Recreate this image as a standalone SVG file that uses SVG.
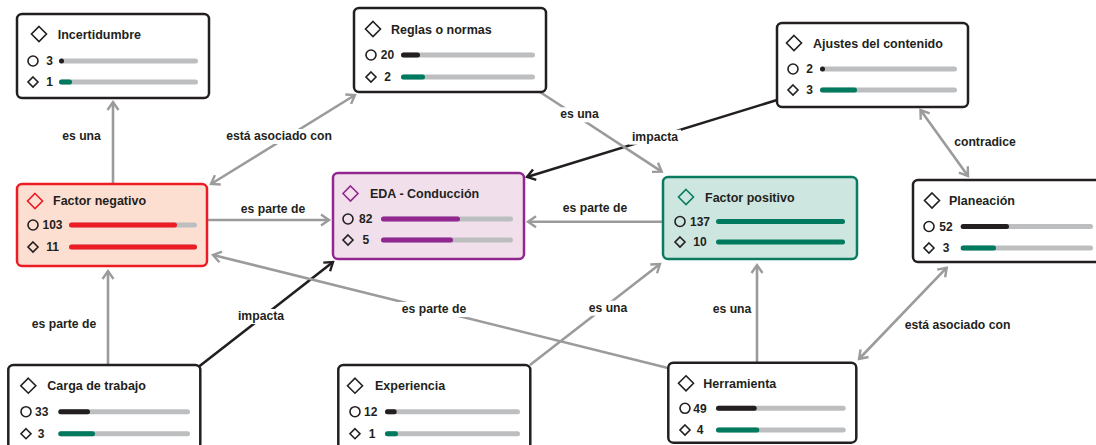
<svg xmlns="http://www.w3.org/2000/svg" width="1096" height="445" viewBox="0 0 1096 445">
<style>
.box{fill:#fff;stroke:#231f20;stroke-width:2.5}
.t{font-family:"Liberation Sans",Arial,sans-serif;font-weight:bold;font-size:12.5px;fill:#231f20}
.n{font-family:"Liberation Sans",Arial,sans-serif;font-weight:bold;font-size:12px;fill:#231f20;text-anchor:middle}
.l{font-family:"Liberation Sans",Arial,sans-serif;font-weight:bold;font-size:12.2px;fill:#231f20;text-anchor:middle}
.ic{fill:none;stroke:#231f20;stroke-width:1.6}
.trk{stroke:#bcbec0;stroke-width:5;stroke-linecap:round}
.fd{stroke:#231f20;stroke-width:5;stroke-linecap:round}
.fg{stroke:#007a5e;stroke-width:5;stroke-linecap:round}
.fr{stroke:#ed1c24;stroke-width:5;stroke-linecap:round}
.fp{stroke:#92278f;stroke-width:5;stroke-linecap:round}
.cg{fill:none;stroke:#9b9b9b;stroke-width:2.6}
.cb{fill:none;stroke:#231f20;stroke-width:2.6}
.bg{fill:#fff}
</style>
<defs>
<marker id="ag" viewBox="-11 -8 14 16" refX="0" refY="0" markerWidth="14" markerHeight="16" markerUnits="userSpaceOnUse" orient="auto-start-reverse" overflow="visible"><path d="M-8,-5.5 L0,0 L-8,5.5" fill="none" stroke="#9b9b9b" stroke-width="2.4"/></marker>
<marker id="ab" viewBox="-11 -8 14 16" refX="0" refY="0" markerWidth="14" markerHeight="16" markerUnits="userSpaceOnUse" orient="auto-start-reverse" overflow="visible"><path d="M-8,-5.5 L0,0 L-8,5.5" fill="none" stroke="#231f20" stroke-width="2.4"/></marker>
</defs>

<g id="connectors">
<path class="cg" d="M113,184 L113,102" marker-end="url(#ag)"/>
<path class="cg" d="M211,184 L355,95" marker-start="url(#ag)" marker-end="url(#ag)"/>
<path class="cg" d="M207,220 L329,220" marker-end="url(#ag)"/>
<path class="cg" d="M663,221.7 L528,221.7" marker-end="url(#ag)"/>
<path class="cg" d="M108,365 L108,271" marker-end="url(#ag)"/>
<path class="cb" d="M199,366.5 L333,262" marker-end="url(#ab)"/>
<path class="cb" d="M777,100 L527,177" marker-end="url(#ab)"/>
<path class="cg" d="M540,92 L661.7,171.7" marker-end="url(#ag)"/>
<path class="cg" d="M530,365 L660,264" marker-end="url(#ag)"/>
<path class="cg" d="M757,362.7 L757,265" marker-end="url(#ag)"/>
<path class="cg" d="M668,368 L213,255" marker-end="url(#ag)"/>
<path class="cg" d="M920.5,110 L968,176" marker-start="url(#ag)" marker-end="url(#ag)"/>
<path class="cg" d="M859,359 L946.7,267.7" marker-start="url(#ag)" marker-end="url(#ag)"/>
</g>

<g id="labels">
<text class="l" x="81.5" y="140">es una</text>
<rect class="bg" x="224" y="129" width="110" height="15"/>
<text class="l" x="279" y="140">está asociado con</text>
<text class="l" x="273" y="212.7">es parte de</text>
<text class="l" x="595" y="212">es parte de</text>
<text class="l" x="64" y="328">es parte de</text>
<rect class="bg" x="235" y="309" width="52" height="15"/>
<text class="l" x="261" y="320">impacta</text>
<rect class="bg" x="629" y="129.7" width="52" height="15"/>
<text class="l" x="655" y="140.7">impacta</text>
<rect class="bg" x="557" y="107.3" width="45" height="15"/>
<text class="l" x="579.5" y="118.3">es una</text>
<rect class="bg" x="585.5" y="300.7" width="45" height="15"/>
<text class="l" x="608" y="311.7">es una</text>
<text class="l" x="732" y="313.3">es una</text>
<rect class="bg" x="398" y="302" width="72" height="15"/>
<text class="l" x="434" y="313">es parte de</text>
<text class="l" x="985" y="145.7">contradice</text>
<text class="l" x="957.5" y="329.3">está asociado con</text>
</g>

<g id="incertidumbre">
<rect class="box" x="17" y="14" width="192" height="84" rx="5"/>
<path class="ic" d="M39,26.5 L46.5,34 L39,41.5 L31.5,34 Z"/>
<text class="t" x="57.7" y="38.5">Incertidumbre</text>
<circle class="ic" cx="33" cy="61" r="5"/>
<text class="n" x="49.5" y="65.3">3</text>
<line class="trk" x1="61.5" y1="61" x2="195.5" y2="61"/>
<path class="fd" d="M61.5,61 h0.01"/>
<path class="ic" d="M33,77 L38,82 L33,87 L28,82 Z"/>
<text class="n" x="49.5" y="86.3">1</text>
<line class="trk" x1="61.5" y1="82" x2="195.5" y2="82"/>
<line class="fg" x1="61.5" y1="82" x2="69.5" y2="82"/>
</g>

<g id="reglas">
<rect class="box" x="354" y="8" width="192" height="84" rx="5"/>
<path class="ic" d="M373,21.5 L380.5,29 L373,36.5 L365.5,29 Z"/>
<text class="t" x="391" y="33.5">Reglas o normas</text>
<circle class="ic" cx="371" cy="55" r="5"/>
<text class="n" x="387.5" y="59.3">20</text>
<line class="trk" x1="403.5" y1="55" x2="532.5" y2="55"/>
<line class="fd" x1="403.5" y1="55" x2="417.5" y2="55"/>
<path class="ic" d="M371,72 L376,77 L371,82 L366,77 Z"/>
<text class="n" x="387.5" y="81.3">2</text>
<line class="trk" x1="403.5" y1="77" x2="532.5" y2="77"/>
<line class="fg" x1="403.5" y1="77" x2="422.5" y2="77"/>
</g>

<g id="ajustes">
<rect class="box" x="777" y="23" width="191" height="84" rx="5"/>
<path class="ic" d="M794,35.5 L801.5,43 L794,50.5 L786.5,43 Z"/>
<text class="t" x="813" y="47.5">Ajustes del contenido</text>
<circle class="ic" cx="793" cy="69" r="5"/>
<text class="n" x="809.5" y="73.3">2</text>
<line class="trk" x1="822.5" y1="69" x2="954.5" y2="69"/>
<path class="fd" d="M822.5,69 h0.01"/>
<path class="ic" d="M793,85 L798,90 L793,95 L788,90 Z"/>
<text class="n" x="809.5" y="94.3">3</text>
<line class="trk" x1="822.5" y1="90" x2="954.5" y2="90"/>
<line class="fg" x1="822.5" y1="90" x2="854.5" y2="90"/>
</g>

<g id="factor-negativo">
<rect class="box" x="17" y="184" width="190" height="82" rx="5" style="fill:#fddfd1;stroke:#ed1c24"/>
<path class="ic" d="M35,193.5 L42.5,201 L35,208.5 L27.5,201 Z" style="stroke:#ed1c24"/>
<text class="t" x="53" y="205.3">Factor negativo</text>
<circle class="ic" cx="33" cy="225" r="5"/>
<text class="n" x="52.5" y="229.3">103</text>
<line class="trk" x1="71.5" y1="225" x2="194.5" y2="225"/>
<line class="fr" x1="71.5" y1="225" x2="174.5" y2="225"/>
<path class="ic" d="M33,242 L38,247 L33,252 L28,247 Z"/>
<text class="n" x="52.5" y="251.3">11</text>
<line class="trk" x1="71.5" y1="247" x2="194.5" y2="247"/>
<line class="fr" x1="71.5" y1="247" x2="194.5" y2="247"/>
</g>

<g id="eda">
<rect class="box" x="333" y="173" width="191" height="86" rx="5" style="fill:#f1e0ec;stroke:#92278f"/>
<path class="ic" d="M350.5,186 L358,193.5 L350.5,201 L343,193.5 Z" style="stroke:#92278f"/>
<text class="t" x="370" y="198">EDA - Conducción</text>
<circle class="ic" cx="348" cy="219" r="5"/>
<text class="n" x="365.8" y="223.3">82</text>
<line class="trk" x1="383.5" y1="219" x2="510.5" y2="219"/>
<line class="fp" x1="383.5" y1="219" x2="457.5" y2="219"/>
<path class="ic" d="M348,235 L353,240 L348,245 L343,240 Z"/>
<text class="n" x="365.8" y="244.3">5</text>
<line class="trk" x1="383.5" y1="240" x2="510.5" y2="240"/>
<line class="fp" x1="383.5" y1="240" x2="450.5" y2="240"/>
</g>

<g id="factor-positivo">
<rect class="box" x="663" y="177" width="194" height="82" rx="5" style="fill:#cde6df;stroke:#0b7b60"/>
<path class="ic" d="M686,189.5 L693.5,197 L686,204.5 L678.5,197 Z" style="stroke:#0b7b60"/>
<text class="t" x="705" y="201.5">Factor positivo</text>
<circle class="ic" cx="680" cy="221.5" r="5"/>
<text class="n" x="700" y="225.8">137</text>
<line class="fg" x1="718.5" y1="221.5" x2="842.5" y2="221.5"/>
<path class="ic" d="M680,237 L685,242 L680,247 L675,242 Z"/>
<text class="n" x="700" y="246.3">10</text>
<line class="fg" x1="718.5" y1="242" x2="842.5" y2="242"/>
</g>

<g id="planeacion">
<rect class="box" x="913" y="180" width="192" height="82" rx="5"/>
<path class="ic" d="M932,193 L939.5,200.5 L932,208 L924.5,200.5 Z"/>
<text class="t" x="949" y="205">Planeación</text>
<circle class="ic" cx="929" cy="226.5" r="5"/>
<text class="n" x="946" y="230.8">52</text>
<line class="trk" x1="963.2" y1="226.5" x2="1090.5" y2="226.5"/>
<line class="fd" x1="963.2" y1="226.5" x2="1006.5" y2="226.5"/>
<path class="ic" d="M929,243 L934,248 L929,253 L924,248 Z"/>
<text class="n" x="946" y="252.3">3</text>
<line class="trk" x1="963.2" y1="248" x2="1090.5" y2="248"/>
<line class="fg" x1="963.2" y1="248" x2="993.5" y2="248"/>
</g>

<g id="carga">
<rect class="box" x="8.3" y="365" width="192" height="84" rx="5"/>
<path class="ic" d="M28.3,378.2 L35.8,385.7 L28.3,393.2 L20.8,385.7 Z"/>
<text class="t" x="47.3" y="390">Carga de trabajo</text>
<circle class="ic" cx="26" cy="411.7" r="5"/>
<text class="n" x="41.7" y="416">33</text>
<line class="trk" x1="60.8" y1="411.7" x2="187.5" y2="411.7"/>
<line class="fd" x1="60.8" y1="411.7" x2="87.5" y2="411.7"/>
<path class="ic" d="M26,428.7 L31,433.7 L26,438.7 L21,433.7 Z"/>
<text class="n" x="41.2" y="438">3</text>
<line class="trk" x1="60.8" y1="433.7" x2="187.5" y2="433.7"/>
<line class="fg" x1="60.8" y1="433.7" x2="92.5" y2="433.7"/>
</g>

<g id="experiencia">
<rect class="box" x="338.3" y="365" width="192" height="84" rx="5"/>
<path class="ic" d="M355,378.2 L362.5,385.7 L355,393.2 L347.5,385.7 Z"/>
<text class="t" x="375" y="390">Experiencia</text>
<circle class="ic" cx="355" cy="411.7" r="5"/>
<text class="n" x="370.8" y="416">12</text>
<line class="trk" x1="387.5" y1="411.7" x2="517.5" y2="411.7"/>
<line class="fd" x1="387.5" y1="411.7" x2="394.2" y2="411.7"/>
<path class="ic" d="M355,428.7 L360,433.7 L355,438.7 L350,433.7 Z"/>
<text class="n" x="372" y="438">1</text>
<line class="trk" x1="387.5" y1="433.7" x2="517.5" y2="433.7"/>
<line class="fg" x1="387.5" y1="433.7" x2="395.5" y2="433.7"/>
</g>

<g id="herramienta">
<rect class="box" x="668.3" y="362.7" width="188" height="80" rx="5"/>
<path class="ic" d="M686,375.8 L693.5,383.3 L686,390.8 L678.5,383.3 Z"/>
<text class="t" x="703.3" y="388">Herramienta</text>
<circle class="ic" cx="685" cy="408.3" r="5"/>
<text class="n" x="700" y="412.6">49</text>
<line class="trk" x1="718.5" y1="408.3" x2="843.2" y2="408.3"/>
<line class="fd" x1="718.5" y1="408.3" x2="754.2" y2="408.3"/>
<path class="ic" d="M685,425 L690,430 L685,435 L680,430 Z"/>
<text class="n" x="700" y="434.3">4</text>
<line class="trk" x1="718.5" y1="430" x2="843.2" y2="430"/>
<line class="fg" x1="718.5" y1="430" x2="756.8" y2="430"/>
</g>
</svg>
